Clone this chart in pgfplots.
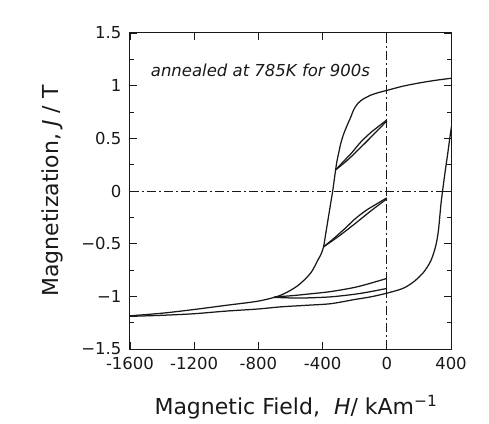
\documentclass[border=0pt]{standalone}
\usepackage{fontspec}
\setmainfont{DejaVu Sans}
\usepackage{pgfplots}
\pgfplotsset{compat=1.18}

\definecolor{ink}{RGB}{25,25,25}
\tikzset{dashdot/.style={line width=0.9pt, ink, dash pattern=on 9pt off 3pt on 2pt off 3pt}}

\begin{document}
\begin{tikzpicture}
\useasboundingbox (-130pt,-74pt) rectangle (359pt,349pt);
\begin{axis}[
  scale only axis, width=321pt, height=316pt,
  xmin=-1600, xmax=400, ymin=-1.5, ymax=1.5,
  xtick={-1600,-1200,-800,-400,0,400},
  xticklabels={-1600,-1200,-800,-400,0,400},
  ytick={-1.5,-1,-0.5,0,0.5,1,1.5},
  yticklabels={−1.5,−1,−0.5,0,0.5,1,1.5},
  minor ytick={-1.25,-0.75,-0.25,0.25,0.75,1.25},
  tick align=inside, major tick length=7pt, minor tick length=4pt,
  every tick/.style={ink, line width=0.8pt},
  axis line style={ink, line width=1pt},
  tick label style={font=\fontsize{16.5}{19}\selectfont, text=ink},
  xticklabel style={yshift=-5pt},
  yticklabel style={xshift=-5pt},
  xlabel={Magnetic Field,\ \ \textit{H}/ kAm\textsuperscript{−1}},
  ylabel={Magnetization, \textit{J} / T},
  label style={font=\fontsize{22}{24}\selectfont, text=ink},
  x label style={at={(axis description cs:0.517,-0.184)}, anchor=center},
  y label style={at={(axis description cs:-0.243,0.5)}, anchor=center},
  no markers,
  every axis plot/.append style={line width=1.25pt, ink},
]
% reference lines
\addplot[dashdot] coordinates {(-1600,0) (400,0)};
\addplot[dashdot] coordinates {(0,-1.5) (0,1.5)};

% major loop, descending branch
\addplot[ink, smooth, tension=0.5] coordinates {
(420,1.075) (400,1.07) (300,1.05) (200,1.025) (100,0.995) (0,0.955)
(-50,0.935) (-100,0.91) (-150,0.87) (-181,0.83) (-205,0.775) (-225,0.70)
(-248,0.62) (-269,0.54) (-287,0.45) (-300,0.36) (-311,0.28) (-319,0.20)
(-328,0.10) (-337,0.0) (-350,-0.12) (-365,-0.26) (-380,-0.40) (-394,-0.53)
(-410,-0.60) (-431,-0.66) (-475,-0.78) (-556,-0.90) (-662,-0.99)
(-800,-1.045) (-1000,-1.085) (-1200,-1.125) (-1400,-1.16) (-1600,-1.185)};

% major loop, ascending branch
\addplot[ink, smooth, tension=0.5] coordinates {
(-1600,-1.19) (-1400,-1.18) (-1200,-1.165) (-1000,-1.14) (-800,-1.12)
(-662,-1.10) (-500,-1.085) (-350,-1.07) (-200,-1.03) (-100,-1.005)
(0,-0.97) (100,-0.925) (169,-0.86) (230,-0.77) (275,-0.66) (305,-0.52)
(322,-0.37) (337,-0.13) (350,0.03) (365,0.2) (380,0.36) (395,0.53) (410,0.68)};

% recoil loop 1
\addplot[ink, smooth, tension=0.5] coordinates {
(-319,0.20) (-270,0.28) (-220,0.36) (-162,0.465) (-100,0.555) (-50,0.615) (0,0.675)};
\addplot[ink, smooth, tension=0.5] coordinates {
(-319,0.20) (-240,0.30) (-162,0.415) (-80,0.54) (0,0.665)};

% recoil loop 2
\addplot[ink, smooth, tension=0.5] coordinates {
(-394,-0.53) (-330,-0.45) (-260,-0.355) (-198,-0.265) (-130,-0.185) (-60,-0.12) (0,-0.065)};
\addplot[ink, smooth, tension=0.5] coordinates {
(-394,-0.53) (-300,-0.43) (-198,-0.31) (-100,-0.19) (0,-0.075)};

% recoil loop 3
\addplot[ink, smooth, tension=0.5] coordinates {
(-700,-1.005) (-600,-0.995) (-500,-0.98) (-350,-0.955) (-200,-0.915) (-100,-0.875) (0,-0.83)};
\addplot[ink, smooth, tension=0.5] coordinates {
(-700,-1.01) (-600,-1.015) (-500,-1.015) (-350,-1.005) (-200,-0.98) (-100,-0.955) (0,-0.925)};
\addplot[ink] coordinates {(0,-0.925) (0,-0.83)};

\node[font=\fontsize{16.5}{18}\selectfont\itshape, text=ink] at (axis cs:-787,1.15) {annealed at 785K for 900s};
\end{axis}
\end{tikzpicture}
\end{document}
